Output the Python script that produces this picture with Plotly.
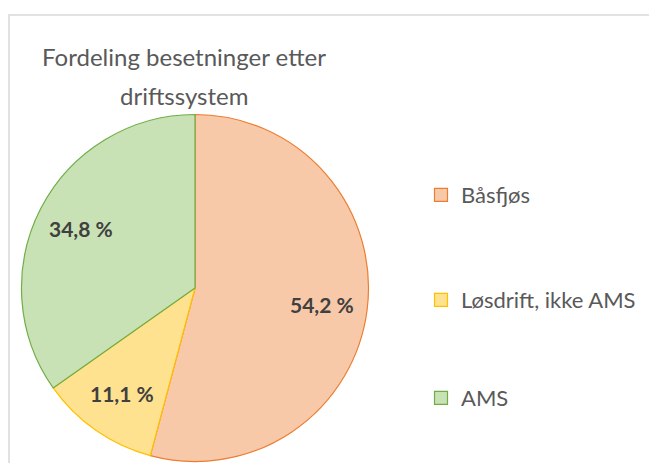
import math
import plotly.graph_objects as go

# Data
categories = ["Båsfjøs", "Løsdrift, ikke AMS", "AMS"]
values = [54.2, 11.1, 34.8]
value_labels = ["54,2 %", "11,1 %", "34,8 %"]
title_line1 = "Fordeling besetninger etter"
title_line2 = "driftssystem"

fill_colors = ["#F8C9A8", "#FFE28F", "#C8E2B6"]
line_colors = ["#ED7D31", "#FFC000", "#70AD47"]

W, H = 649, 463
cx, cy, R = 195, 288, 173.5
label_r = 0.74

fig = go.Figure()
fig.add_trace(go.Pie(
    labels=categories,
    values=values,
    text=value_labels,
    textinfo="none",
    sort=False,
    direction="clockwise",
    rotation=0,
    marker=dict(colors=fill_colors, line=dict(color=line_colors, width=1.2)),
    showlegend=False,
    hoverinfo="label+percent",
    domain=dict(x=[(cx - R) / W, (cx + R) / W], y=[1 - (cy + R) / H, 1 - (cy - R) / H]),
))

# Data labels placed at each slice's mid-angle (derived from the values)
total = sum(values)
annotations = []
cum = 0.0
for v, lab in zip(values, value_labels):
    mid = (cum + v / 2) / total * 2 * math.pi
    cum += v
    px = cx + label_r * R * math.sin(mid)
    py = cy - label_r * R * math.cos(mid)
    annotations.append(dict(text=f"<b>{lab}</b>", x=px / W, y=1 - py / H,
                            xref="paper", yref="paper", xanchor="center", yanchor="middle",
                            showarrow=False, font=dict(family="Lato", size=21, color="#404040")))

legend_names = ["legend", "legend2", "legend3"]
legend_y = [195, 300, 398]
for name, cat, fc, lc in zip(legend_names, categories, fill_colors, line_colors):
    fig.add_trace(go.Scatter(
        x=[None], y=[None], mode="markers", name=cat, legend=name,
        marker=dict(symbol="square", size=13, color=fc, line=dict(color=lc, width=1.2)),
        hoverinfo="skip",
    ))

legend_common = dict(
    font=dict(family="Lato", size=22, color="#595959"),
    bgcolor="rgba(0,0,0,0)", borderwidth=0,
    xanchor="left", yanchor="middle",
)
layout_legends = {}
for name, ly in zip(legend_names, legend_y):
    layout_legends[name] = dict(x=421 / W, y=1 - ly / H, **legend_common)

annotations.append(dict(text=title_line2, x=184 / W, y=1 - 95 / H, xref="paper", yref="paper",
                        xanchor="center", yanchor="middle", showarrow=False,
                        font=dict(family="Lato", size=24, color="#595959")))

fig.update_layout(
    width=W, height=H,
    margin=dict(l=0, r=0, t=0, b=0),
    paper_bgcolor="white", plot_bgcolor="white",
    xaxis=dict(visible=False), yaxis=dict(visible=False),
    title=dict(text=title_line1, x=184 / W, xanchor="center", y=1 - 58 / H, yanchor="middle",
               font=dict(family="Lato", size=24, color="#595959")),
    annotations=annotations,
    shapes=[dict(type="rect", xref="paper", yref="paper",
                 x0=9 / W, x1=651 / W, y0=-3 / H, y1=1 - 15 / H,
                 line=dict(color="#D9D9D9", width=1.5), layer="below")],
    **layout_legends,
)

fig.write_html("out.html", config={"displayModeBar": False},
               post_script="document.body.style.margin='0';")
